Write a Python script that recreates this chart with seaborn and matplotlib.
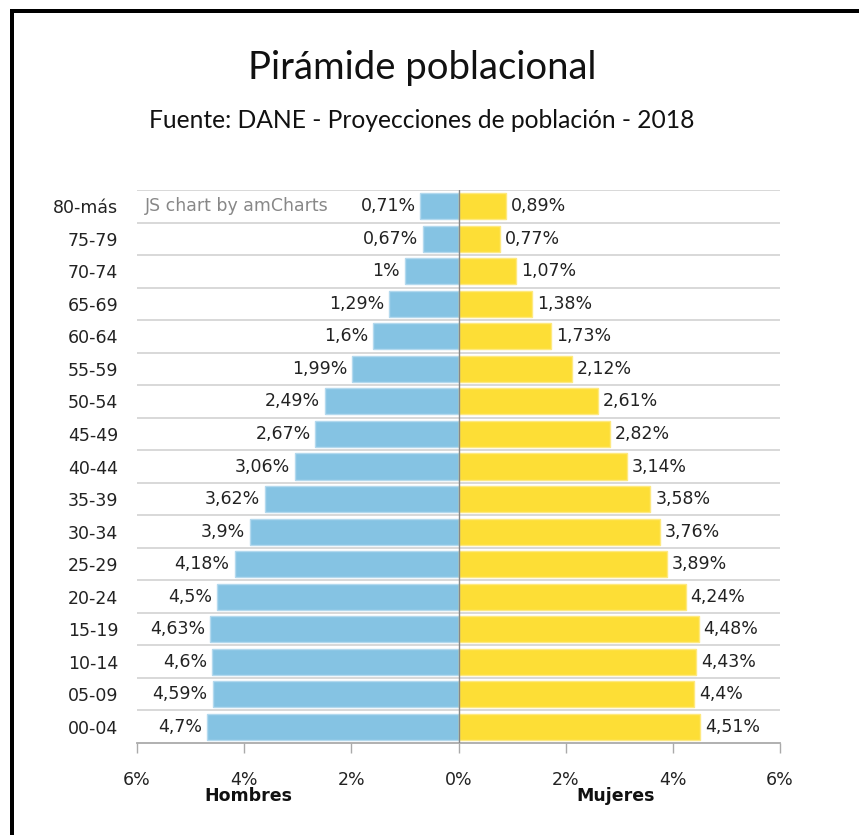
import numpy as np
import pandas as pd
import matplotlib
matplotlib.use("Agg")
import matplotlib.pyplot as plt
import matplotlib.transforms as mtransforms
from matplotlib.patches import Rectangle
import seaborn as sns

# datos (de arriba hacia abajo)
grupos = ["80-más", "75-79", "70-74", "65-69", "60-64", "55-59", "50-54", "45-49",
          "40-44", "35-39", "30-34", "25-29", "20-24", "15-19", "10-14", "05-09", "00-04"]
hombres = [0.71, 0.67, 1, 1.29, 1.6, 1.99, 2.49, 2.67, 3.06, 3.62, 3.9, 4.18, 4.5,
           4.63, 4.6, 4.59, 4.7]
mujeres = [0.89, 0.77, 1.07, 1.38, 1.73, 2.12, 2.61, 2.82, 3.14, 3.58, 3.76, 3.89,
           4.24, 4.48, 4.43, 4.4, 4.51]
ticks = [-6, -4, -2, 0, 2, 4, 6]

df = pd.DataFrame({"Grupo": grupos, "Hombres": hombres, "Mujeres": mujeres})
df["Hombres_neg"] = -df["Hombres"]

sns.set_style("white")
plt.rcParams["font.family"] = ["DejaVu Sans"]

fs = 12.5

fig = plt.figure(figsize=(8.59, 8.35), dpi=100)
ax = fig.add_axes([137 / 859, 1 - 743 / 835, (780 - 137) / 859, (743 - 190) / 835])

sns.barplot(data=df, x="Hombres_neg", y="Grupo", order=grupos, orient="h",
            color="#85c3e3", edgecolor="#b3d9ee", linewidth=1, width=0.8,
            saturation=1, ax=ax)
sns.barplot(data=df, x="Mujeres", y="Grupo", order=grupos, orient="h",
            color="#fdde36", edgecolor="#fee97f", linewidth=1, width=0.8,
            saturation=1, ax=ax)

def fmt(v):
    return f"{v:g}".replace(".", ",") + "%"

ax.bar_label(ax.containers[0], labels=[fmt(v) for v in hombres], padding=3.5,
             fontsize=fs, color="#222222")
ax.bar_label(ax.containers[1], labels=[fmt(v) for v in mujeres], padding=3.5,
             fontsize=fs, color="#222222")

ax.set_xlim(-6, 6)
ax.set_ylim(len(grupos) - 0.5, -0.5)

# lineas de la cuadricula entre categorias
for k in range(len(grupos)):
    ax.axhline(k - 0.5, color="#d6d6d6", lw=1.3, zorder=0)
ax.axvline(0, color="#888888", lw=1, zorder=3)

for s in ["top", "right", "left"]:
    ax.spines[s].set_visible(False)
ax.spines["bottom"].set_color("#aaaaaa")
ax.spines["bottom"].set_linewidth(1.3)

ax.set_xticks(ticks)
ax.set_xticklabels([f"{abs(t)}%" for t in ticks], fontsize=fs, color="#222222")
ax.tick_params(axis="x", direction="out", length=7, width=1, color="#aaaaaa", pad=13,
               bottom=True)
ax.tick_params(axis="y", length=0, pad=13.5, labelsize=fs, labelcolor="#222222")
ax.set_xlabel("")
ax.set_ylabel("")

trans = mtransforms.blended_transform_factory(ax.transData, ax.transAxes)
ax.text(-3.92, -0.096, "Hombres", transform=trans, ha="center", va="center",
        fontsize=fs, fontweight="bold", color="#111111")
ax.text(2.93, -0.096, "Mujeres", transform=trans, ha="center", va="center",
        fontsize=fs, fontweight="bold", color="#111111")

ax.text(0.012, 1 - 0.5 / len(grupos), "JS chart by amCharts", transform=ax.transAxes,
        ha="left", va="center", fontsize=fs, color="#888888")

fig.text(422 / 859, 1 - 68 / 835, "Pirámide poblacional", ha="center", va="center",
         fontsize=27.5, family="Lato", color="#111111")
fig.text(422 / 859, 1 - 121 / 835, "Fuente: DANE - Proyecciones de población - 2018",
         ha="center", va="center", fontsize=17.7, family="Lato", color="#111111")

# marco negro arriba e izquierda
fig.add_artist(Rectangle((9.5 / 859, 0), 4 / 859, 1 - 9 / 835, transform=fig.transFigure,
                         color="black", lw=0))
fig.add_artist(Rectangle((9.5 / 859, 1 - 13 / 835), 1, 4 / 835, transform=fig.transFigure,
                         color="black", lw=0))

fig.savefig("out.png", dpi=100)
